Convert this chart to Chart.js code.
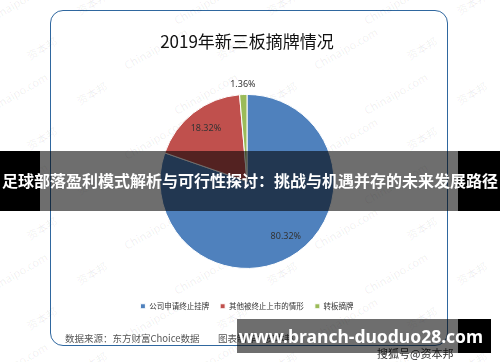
<!DOCTYPE html>
<html>
<head>
<meta charset="utf-8">
<script src="https://cdn.jsdelivr.net/npm/chart.js@4.4.0/dist/chart.umd.min.js"></script>
<style>
  body { margin: 0; background: #fff; }
  #wrap { position: relative; width: 500px; height: 362px; overflow: hidden; font-family: "Noto Sans CJK SC", "Noto Sans", sans-serif; }
  #frame { position: absolute; left: 50px; top: 10px; width: 396px; height: 334px; border: 1.5px solid #2f679f; border-radius: 13px; }
  #chart { position: absolute; left: 0; top: 0; }
  #marks { position: absolute; left: 0; top: 0; width: 500px; height: 362px; }
  .wm { position: absolute; font-size: 11px; color: rgba(0,0,0,0.07); transform: rotate(-30deg); white-space: nowrap; }
  .src { position: absolute; top: 331px; font-size: 9.5px; color: #555; white-space: nowrap; }
  .sohu { position: absolute; left: 377px; top: 345px; font-size: 11px; color: #333; white-space: nowrap; }
  .band { position: absolute; background: rgba(0,0,0,0.57); color: #fff; font-weight: bold; white-space: nowrap; }
  .band .edge { position: absolute; top: 0; bottom: 0; background: #000; }
</style>
</head>
<body>
<div id="wrap">
  <div id="frame"></div>
  <div id="marks"></div>
  <canvas id="chart" width="500" height="362"></canvas>
  <div class="src" style="left:65px">数据来源：东方财富Choice数据</div>
  <div class="src" style="left:218px">图表制作：资本邦</div>
  <div class="sohu">搜狐号@资本邦</div>
  <div class="band" style="left:0;top:151px;width:500px;height:60px;">
    <div class="edge" style="left:0;width:40px"></div>
    <div class="edge" style="left:458px;width:42px"></div>
    <div style="position:absolute;left:0;width:500px;top:17px;text-align:center;font-size:16px;line-height:24px">足球部落盈利模式解析与可行性探讨：挑战与机遇并存的未来发展路径</div>
  </div>
  <div class="band" style="left:237px;top:319px;width:254px;height:34px;">
    <div class="edge" style="left:221px;width:33px"></div>
    <div style="position:absolute;left:0;width:248px;top:5px;text-align:center;font-family:'Noto Sans',sans-serif;font-size:17.5px;line-height:24px">www.branch-duoduo28.com</div>
  </div>
</div>
<script>
const categories = ["公司申请终止挂牌", "其他被终止上市的情形", "转板摘牌"];
const shares = [80.32, 18.32, 1.36];
const sliceColors = ["#4f81bd", "#c0504d", "#9bbb59"];

// faint background watermark grid
const marks = document.getElementById("marks");
for (let row = 0; row < 9; row++) {
  for (let col = 0; col < 6; col++) {
    const d = document.createElement("div");
    d.className = "wm";
    d.textContent = (row + col) % 2 ? "资本邦" : "Chinaipo.com";
    d.style.left = (col * 95 - 20 + (row % 2) * 45) + "px";
    d.style.top = (row * 45 - 5) + "px";
    marks.appendChild(d);
  }
}

// percent labels, small slices go outside
const pctLabels = {
  id: "pctLabels",
  afterDatasetsDraw(chart) {
    const ctx = chart.ctx;
    const meta = chart.getDatasetMeta(0);
    ctx.save();
    ctx.font = "9px 'Noto Sans', sans-serif";
    ctx.fillStyle = "#333";
    ctx.textAlign = "center";
    ctx.textBaseline = "middle";
    meta.data.forEach(function (arc, i) {
      const mid = (arc.startAngle + arc.endAngle) / 2;
      let r = arc.outerRadius * 0.77;
      if (shares[i] < 5) r = arc.outerRadius + 10;
      const x = arc.x + Math.cos(mid) * r;
      const y = arc.y + Math.sin(mid) * r;
      ctx.fillText(shares[i].toFixed(2) + "%", x, y);
    });
    ctx.restore();
  }
};

new Chart(document.getElementById("chart").getContext("2d"), {
  type: "pie",
  data: {
    labels: categories,
    datasets: [{
      data: shares,
      backgroundColor: sliceColors,
      borderColor: "#fff",
      borderWidth: 1,
      radius: 87
    }]
  },
  options: {
    responsive: false,
    animation: false,
    layout: { padding: { left: 0, right: 6, top: 0, bottom: 42 } },
    plugins: {
      title: {
        display: true,
        text: "2019年新三板摘牌情况",
        color: "#111",
        font: { size: 17, family: "'Noto Sans CJK SC', sans-serif", weight: "normal" },
        padding: { top: 31, bottom: 20 }
      },
      legend: {
        position: "bottom",
        labels: {
          boxWidth: 5,
          boxHeight: 5,
          padding: 11,
          color: "#333",
          font: { size: 7.5, family: "'Noto Sans CJK SC', sans-serif" }
        }
      },
      tooltip: { enabled: false }
    }
  },
  plugins: [pctLabels]
});
</script>
</body>
</html>
